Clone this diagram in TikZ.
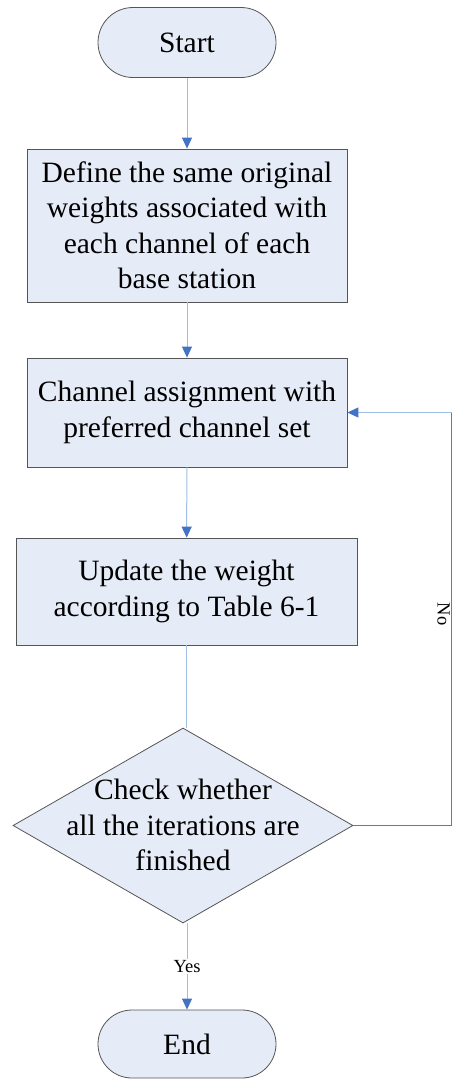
\documentclass[tikz,border=0pt]{standalone}
\usepackage{fontspec}
\setmainfont{Liberation Serif}
\usetikzlibrary{shapes.geometric,arrows.meta}
\definecolor{boxfill}{RGB}{230,236,247}
\definecolor{boxline}{RGB}{85,85,85}
\definecolor{lineblue}{RGB}{160,190,228}
\definecolor{tipblue}{RGB}{68,114,196}
\definecolor{loopgray}{RGB}{120,120,120}
\begin{document}
\begin{tikzpicture}[x=1pt,y=-1pt,
  every node/.style={font=\fontsize{29.5}{35.5}\selectfont},
  term/.style={draw=boxline,fill=boxfill,line width=0.8pt,rounded corners=35pt,minimum width=178pt,minimum height=70pt,inner sep=0pt},
  proc/.style={draw=boxline,fill=boxfill,line width=0.8pt,inner sep=0pt,align=center},
  dec/.style={draw=boxline,fill=boxfill,line width=0.8pt,shape=diamond,inner sep=0pt,minimum width=340pt,minimum height=195pt},
  txt/.style={align=center,inner sep=0pt},
  conn/.style={draw=lineblue,line width=1pt,-{Triangle[length=11pt,width=10pt,color=tipblue]}},
  plain/.style={draw=lineblue,line width=1pt},
  loopline/.style={draw=loopgray,line width=0.8pt},
  lbl/.style={font=\fontsize{18.5}{22}\selectfont,fill=white,inner sep=1.5pt}
]
\useasboundingbox (0,0) rectangle (453,1079);

\node[term] (start) at (187,42.5) {Start};
\node[proc,minimum width=320pt,minimum height=153pt] (define) at (187,225.5)
  {Define the same original\\weights associated with\\each channel of each\\base station};
\node[proc,minimum width=320pt,minimum height=109pt] (chan) at (187,412.5)
  {Channel assignment with\\preferred channel set};
\node[proc,minimum width=341pt,minimum height=107pt] (upd) at (186.5,591.5)
  {Update the weight\\according to Table 6-1};
\node[dec] (check) at (183,825.5) {};
\node[txt] (checktxt) at (183,825) {Check whether\\all the iterations are\\finished};
\node[term,minimum height=68pt,rounded corners=34pt] (end) at (187,1044) {End};

\draw[conn] (start) -- (define);
\draw[conn] (define) -- (chan);
\draw[conn] (chan) -- (upd);
\draw[plain] (upd.south) -- (upd.south |- check.north);
\draw[conn] (check.south -| end.north) -- node[lbl,pos=0.5] (yes) {Yes} (end.north);

\coordinate (c1) at (451.5,825.5);
\coordinate (c2) at (451.5,412.5);
\draw[loopline] (check.east) -- (c1) -- (c2);
\node[lbl,rotate=-90,anchor=north,inner sep=1pt] (no) at (451,614) {No};
\draw[conn] (c2) -- (chan.east);
\end{tikzpicture}
\end{document}
